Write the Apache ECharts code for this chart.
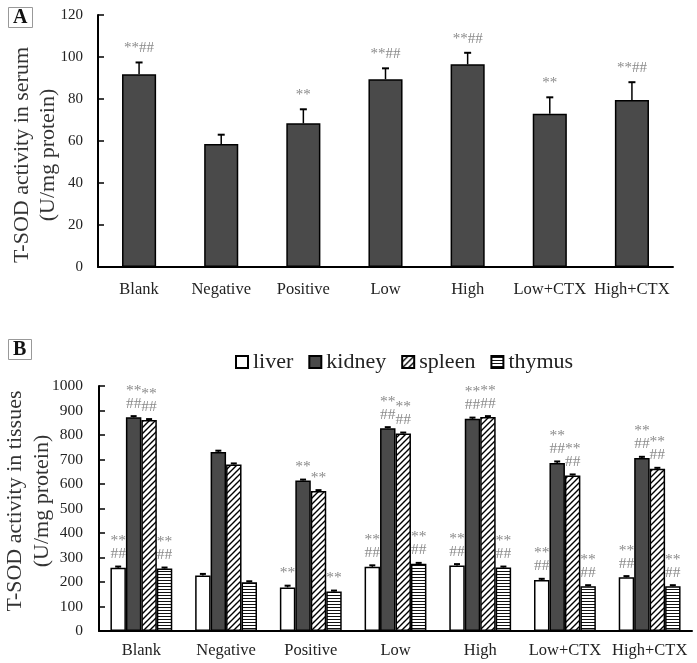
<!DOCTYPE html>
<html><head><meta charset="utf-8">
<script src="https://cdn.jsdelivr.net/npm/echarts@6/dist/echarts.min.js"></script>
<style>html,body{margin:0;padding:0;background:#fff}#c{width:697px;height:663px}</style>
</head><body><div id="c"></div>
<script>
const categories = ['Blank', 'Negative', 'Positive', 'Low', 'High', 'Low+CTX', 'High+CTX'];

// Panel A: serum
const serumMean = [91.8, 58.6, 68.4, 89.4, 96.5, 73.0, 79.5];
const serumErr  = [5.6, 4.4, 6.7, 5.2, 5.5, 7.8, 8.5];
const serumMarks = ['**##', '', '**', '**##', '**##', '**', '**##'];
const serumTicks = [0, 20, 40, 60, 80, 100, 120];

// Panel B: tissues
const organs = ['liver', 'kidney', 'spleen', 'thymus'];
const liver  = [258, 227, 178, 262, 267, 208, 219];
const kidney = [872, 731, 614, 828, 866, 686, 706];
const spleen = [861, 680, 571, 806, 873, 635, 662];
const thymus = [255, 199, 161, 274, 259, 183, 183];
const liverErr  = [5, 6, 7, 6, 6, 5, 5];
const kidneyErr = [5, 5, 4, 4, 5, 6, 5];
const spleenErr = [4, 4, 4, 4, 4, 4, 4];
const thymusErr = [4, 4, 4, 4, 4, 4, 4];
const liverMarks  = ['**\n##', '', '**', '**\n##', '**\n##', '**\n##', '**\n##'];
const kidneyMarks = ['**\n##', '', '**', '**\n##', '**\n##', '**\n##', '**\n##'];
const spleenMarks = ['**\n##', '', '**', '**\n##', '**\n##', '**\n##', '**\n##'];
const thymusMarks = ['**\n##', '', '**', '**\n##', '**\n##', '**\n##', '**\n##'];
const tissueTicks = [0, 100, 200, 300, 400, 500, 600, 700, 800, 900, 1000];

const SERIF = '"Liberation Serif", "Times New Roman", serif';

function makePattern(type) {
  const c = document.createElement('canvas');
  const g = c.getContext('2d');
  if (type === 'diag') {
    c.width = 6; c.height = 6;
    g.fillStyle = '#fff'; g.fillRect(0, 0, 6, 6);
    g.strokeStyle = '#000'; g.lineWidth = 1.4;
    g.beginPath();
    g.moveTo(-1, 7); g.lineTo(7, -1);
    g.moveTo(-1, 1); g.lineTo(1, -1);
    g.moveTo(5, 7); g.lineTo(7, 5);
    g.stroke();
  } else {
    c.width = 4; c.height = 3;
    g.fillStyle = '#fff'; g.fillRect(0, 0, 4, 3);
    g.fillStyle = '#111'; g.fillRect(0, 1, 4, 1);
  }
  return c;
}

const A_GAP = 0.585;
const B_GAP = 0.27;

function errSeries(xi, means, errs, marks, idx, n, gap, fontSize, lineH, capW) {
  return {
    type: 'custom', xAxisIndex: xi, yAxisIndex: xi, z: 6, silent: true,
    data: means.map((m, i) => [i, m, errs[i]]),
    renderItem(params, api) {
      const i = api.value(0), m = api.value(1), e = api.value(2);
      const base = api.coord([i, m]);
      const top = api.coord([i, m + e]);
      const band = api.size([1, 0])[0];
      const bw = band * (1 - gap) / n;
      const x = base[0] + (idx - (n - 1) / 2) * bw;
      const children = [
        { type: 'line', shape: { x1: x, y1: base[1], x2: x, y2: top[1] }, style: { stroke: '#000', lineWidth: 1.5 } },
        { type: 'line', shape: { x1: x - capW / 2, y1: top[1], x2: x + capW / 2, y2: top[1] }, style: { stroke: '#000', lineWidth: 2 } }
      ];
      const t = marks[params.dataIndex];
      if (t) {
        children.push({ type: 'text', style: { text: t, x: x, y: top[1] - 6, fill: '#8a8a8a', fontSize: fontSize, fontFamily: SERIF, align: 'center', verticalAlign: 'bottom', lineHeight: lineH } });
      }
      return { type: 'group', children };
    }
  };
}

const axisLineStyle = { color: '#000', width: 2 };
const xAxisCommon = (gi, margin) => ({
  type: 'category', gridIndex: gi, data: categories,
  axisLine: { lineStyle: axisLineStyle },
  axisTick: { inside: true, length: 5, lineStyle: { color: '#000', width: 1.5 } },
  axisLabel: { interval: 0, hideOverlap: false, color: '#222', fontSize: 16.5, fontFamily: SERIF, margin: margin }
});

const chart = echarts.init(document.getElementById('c'), null, { renderer: 'canvas' });
const diag = makePattern('diag');
const horiz = makePattern('horiz');
const organStyles = [
  { color: '#fff', borderColor: '#000', borderWidth: 1.5 },
  { color: '#4a4a4a', borderColor: '#000', borderWidth: 1.5 },
  { color: { image: diag, repeat: 'repeat' }, borderColor: '#000', borderWidth: 1.5 },
  { color: { image: horiz, repeat: 'repeat' }, borderColor: '#000', borderWidth: 1.5 }
];
const organData = [liver, kidney, spleen, thymus];
const organErr = [liverErr, kidneyErr, spleenErr, thymusErr];
const organMarks = [liverMarks, kidneyMarks, spleenMarks, thymusMarks];

const series = [
  { type: 'bar', name: 'serum', xAxisIndex: 0, yAxisIndex: 0, data: serumMean, barCategoryGap: (A_GAP * 100) + '%',
    itemStyle: { color: '#4a4a4a', borderColor: '#000', borderWidth: 1.5 } },
  errSeries(0, serumMean, serumErr, serumMarks, 0, 1, A_GAP, 15, 16, 7)
];
organs.forEach((o, k) => {
  series.push({ type: 'bar', name: o, xAxisIndex: 1, yAxisIndex: 1, data: organData[k],
    barGap: '0%', barCategoryGap: (B_GAP * 100) + '%', itemStyle: organStyles[k] });
});
organs.forEach((o, k) => {
  series.push(errSeries(1, organData[k], organErr[k], organMarks[k], k, 4, B_GAP, 15.5, 13, 6));
});

chart.setOption({
  animation: false,
  backgroundColor: '#fff',
  title: [
    { text: 'A', left: 8, top: 7, borderColor: '#999', borderWidth: 1, padding: [1, 5, 0, 5],
      textStyle: { fontFamily: SERIF, fontSize: 20, fontWeight: 'bold', color: '#111' } },
    { text: 'B', left: 8, top: 339, borderColor: '#999', borderWidth: 1, padding: [1, 5, 0, 5],
      textStyle: { fontFamily: SERIF, fontSize: 20, fontWeight: 'bold', color: '#111' } }
  ],
  legend: {
    data: organs, left: 230, top: 346, itemWidth: 12, itemHeight: 12, itemGap: 15, icon: 'rect',
    textStyle: { fontFamily: SERIF, fontSize: 22, color: '#222' }
  },
  grid: [
    { left: 98, right: 24, top: 15, height: 252 },
    { left: 99, right: 5, top: 386, height: 245 }
  ],
  xAxis: [xAxisCommon(0, 14), xAxisCommon(1, 11)],
  yAxis: [
    { type: 'value', gridIndex: 0, min: serumTicks[0], max: serumTicks[serumTicks.length - 1], interval: 20,
      axisLine: { show: true, lineStyle: axisLineStyle },
      axisTick: { show: true, inside: true, length: 6, lineStyle: { color: '#000', width: 1.5 } },
      splitLine: { show: false },
      axisLabel: { color: '#222', fontSize: 15, fontFamily: SERIF, margin: 15, formatter: v => String(v) } },
    { type: 'value', gridIndex: 1, min: tissueTicks[0], max: tissueTicks[tissueTicks.length - 1], interval: 100,
      axisLine: { show: true, lineStyle: axisLineStyle },
      axisTick: { show: true, inside: true, length: 6, lineStyle: { color: '#000', width: 1.5 } },
      splitLine: { show: false },
      axisLabel: { color: '#222', fontSize: 15.5, fontFamily: SERIF, margin: 16, formatter: v => String(v) } }
  ],
  graphic: [
    { type: 'text', x: 35, y: 155, rotation: Math.PI / 2,
      style: { text: 'T-SOD activity in serum\n(U/mg protein)', fill: '#333', fontSize: 22, fontFamily: SERIF, align: 'center', verticalAlign: 'middle', lineHeight: 26 } },
    { type: 'text', x: 29, y: 501, rotation: Math.PI / 2,
      style: { text: 'T-SOD activity in tissues\n(U/mg protein)', fill: '#333', fontSize: 22, fontFamily: SERIF, align: 'center', verticalAlign: 'middle', lineHeight: 27 } }
  ],
  series
});
</script>
</body></html>
